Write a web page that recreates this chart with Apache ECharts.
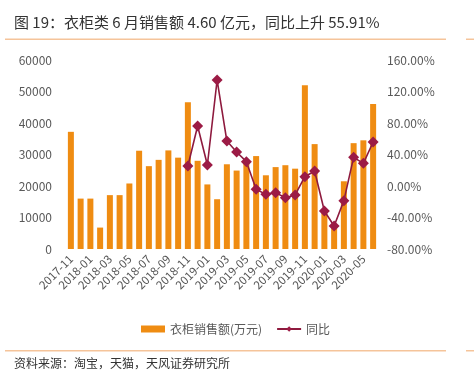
<!DOCTYPE html>
<html>
<head>
<meta charset="utf-8">
<script src="https://cdn.jsdelivr.net/npm/echarts@6/dist/echarts.min.js"></script>
<style>
html,body{margin:0;padding:0;background:#fff;}
#c{width:474px;height:382px;}
</style>
</head>
<body>
<div id="c"></div>
<script>
const months = ['2017-11','2017-12','2018-01','2018-02','2018-03','2018-04','2018-05','2018-06','2018-07','2018-08','2018-09','2018-10','2018-11','2018-12','2019-01','2019-02','2019-03','2019-04','2019-05','2019-06','2019-07','2019-08','2019-09','2019-10','2019-11','2019-12','2020-01','2020-02','2020-03','2020-04','2020-05','2020-06'];
const sales = [37200,16000,16000,6800,17100,17100,20800,31200,26300,28300,31300,29000,46600,28000,20500,15800,26900,24900,27000,29500,23400,26000,26600,25500,52000,33300,12500,7000,21500,33600,34500,46000];
const yoy = [null,null,null,null,null,null,null,null,null,null,null,null,25.4,76.2,26.7,134.6,57.1,43.2,30.9,-4.2,-10.6,-8.5,-14.8,-11.4,11.8,19.0,-31.7,-50.8,-18.6,36.4,28.8,55.91];
const leftTicks = {min:0,max:60000,interval:10000};
const rightTicks = {min:-80,max:160,interval:40};
const titleText = '图 19：衣柜类 6 月销售额 4.60 亿元，同比上升 55.91%';
const sourceText = '资料来源：淘宝，天猫，天风证券研究所';
const barName = '衣柜销售额(万元)';
const lineName = '同比';

const chart = echarts.init(document.getElementById('c'));
const FONT = '"Noto Sans CJK SC", "Noto Sans", sans-serif';
chart.setOption({
  animation:false,
  textStyle:{fontFamily:FONT},
  graphic:[
    {type:'text',left:14,top:15,style:{text:titleText,fontSize:15,fill:'#333',fontFamily:FONT}},
    {type:'rect',shape:{x:5,y:38.5,width:441,height:1.5},style:{fill:'#F5C49A'}},
    {type:'rect',shape:{x:466,y:38.5,width:8,height:1.5},style:{fill:'#F5C49A'}},
    {type:'rect',shape:{x:5,y:350,width:441,height:1.5},style:{fill:'#F5C49A'}},
    {type:'rect',shape:{x:466,y:350,width:8,height:1.5},style:{fill:'#F5C49A'}},
    {type:'text',left:14,top:357,style:{text:sourceText,fontSize:12,fill:'#333',fontFamily:FONT}}
  ],
  legend:{
    left:136, top:318,
    itemGap:14,
    textStyle:{fontSize:12,color:'#595959',fontFamily:FONT},
    data:[
      {name:barName,icon:'rect',itemStyle:{color:'#EF8C12'}},
      {name:lineName}
    ],
    itemWidth:24,itemHeight:7
  },
  grid:{left:66,right:96,top:60,bottom:133},
  xAxis:{
    type:'category',
    data:months,
    axisLine:{show:false},
    axisTick:{show:false},
    axisLabel:{rotate:45,interval:1,fontSize:11.5,color:'#555',margin:8}
  },
  yAxis:[
    {type:'value',min:leftTicks.min,max:leftTicks.max,interval:leftTicks.interval,
     splitLine:{show:false},axisLine:{show:false},axisTick:{show:false},
     axisLabel:{fontSize:12,color:'#595959',margin:14,formatter:v=>String(v)}},
    {type:'value',min:rightTicks.min,max:rightTicks.max,interval:rightTicks.interval,
     splitLine:{show:false},axisLine:{show:false},axisTick:{show:false},
     axisLabel:{fontSize:12,color:'#595959',margin:9,formatter:v=>v.toFixed(2)+'%'}}
  ],
  series:[
    {name:barName,type:'bar',data:sales,barWidth:6,itemStyle:{color:'#EF8C12'},yAxisIndex:0},
    {name:lineName,type:'line',data:yoy,yAxisIndex:1,symbol:'diamond',symbolSize:11,showAllSymbol:true,
     lineStyle:{color:'#8E1A3E',width:1.6},itemStyle:{color:'#9C1B45'}}
  ]
});
</script>
</body>
</html>
